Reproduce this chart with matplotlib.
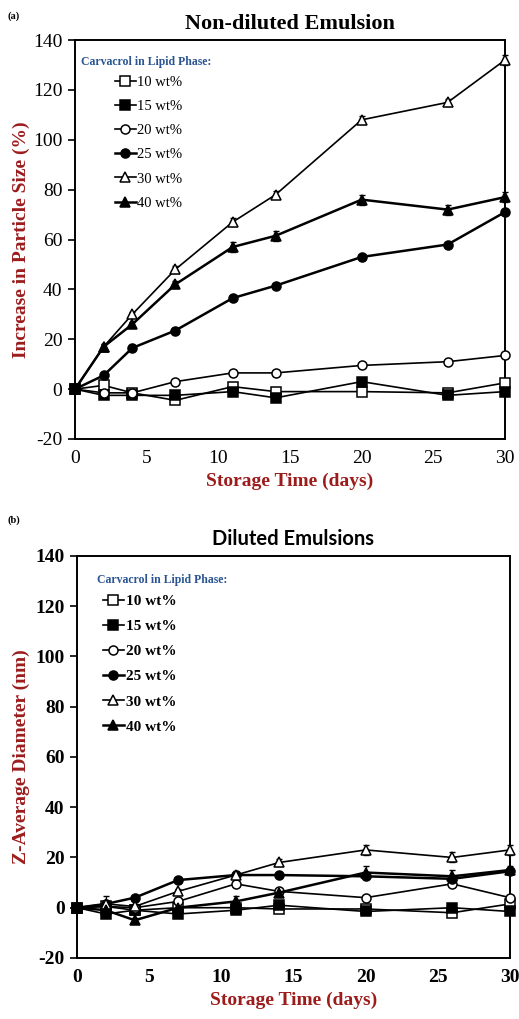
import matplotlib
matplotlib.use('Agg')
from matplotlib import pyplot as plt

plt.rcParams['axes.unicode_minus'] = False

days = [0, 2, 4, 7, 11, 14, 20, 26, 30]
labels = ['10 wt%', '15 wt%', '20 wt%', '25 wt%', '30 wt%', '40 wt%']

# (a) non-diluted, increase in particle size (%)
a_10 = [0, 1.5, -1.5, -4.5, 1, -1, -1, -1.5, 2.5]
a_15 = [0, -2.5, -2.5, -2.5, -1, -3.5, 3, -2.5, -1]
a_20 = [0, -1.5, -1.5, 3, 6.5, 6.5, 9.5, 11, 13.5]
a_25 = [0, 5.5, 16.5, 23.5, 36.5, 41.5, 53, 58, 71]
a_30 = [0, 17, 30, 48, 67, 78, 108, 115, 132]
a_40 = [0, 17, 26, 42, 57, 61.5, 76, 72, 77]
a_err30 = [0, 1, 1, 1.5, 1.5, 1.5, 1.5, 1.5, 2]
a_err40 = [0, 1, 1, 1.5, 2, 2, 2, 2, 2]

# (b) diluted, z-average diameter
b_10 = [0, 0.5, -1, 0, 0, -0.5, -0.5, -2, 1.5]
b_15 = [0, -2.5, -1, -2.5, -1, 1, -1.5, 0, -1.5]
b_20 = [0, 0.5, 0, 2.5, 9.5, 6.5, 4, 9.5, 4]
b_25 = [0, 1.5, 4, 11, 13, 13, 12.5, 11.5, 14.5]
b_30 = [0, 1.5, 0.5, 6.5, 13, 18, 23, 20, 23]
b_40 = [0, -1, -5, 0, 2.5, 6, 14, 12.5, 15]
b_err30 = [0, 3, 1, 1, 1.5, 1.5, 2, 2, 2]
b_err40 = [0, 1, 1, 1, 2, 1.5, 2.5, 2.5, 1.5]

styles = [('s', 'white', 1.2), ('s', 'black', 1.2), ('o', 'white', 1.2),
          ('o', 'black', 1.8), ('^', 'white', 1.2), ('^', 'black', 1.8)]

serif = 'Liberation Serif'
red = '#9c1c1c'
blue = '#2a5592'

fig = plt.figure(figsize=(5.19, 10.19), dpi=100)
ax1 = fig.add_axes([0.1445, 0.5692, 0.8285, 0.3915])
ax2 = fig.add_axes([0.1485, 0.0599, 0.834, 0.3945])


def draw(ax, series, errs, bold):
    handles = []
    for i, ys in enumerate(series):
        m, fc, lw = styles[i]
        e = errs.get(i)
        if e is not None:
            ax.errorbar(days, ys, yerr=e, fmt='none', ecolor='black',
                        elinewidth=0.9, capsize=2.5, clip_on=False, zorder=2)
        h, = ax.plot(days, ys, marker=m, mfc=fc, mec='black', color='black',
                     lw=lw, ms=6.5, mew=1.1, clip_on=False, zorder=3)
        handles.append(h)
    ax.set_xlim(0, 30)
    ax.set_ylim(-20, 140)
    ax.set_xticks(range(0, 31, 5))
    ax.set_yticks(range(-20, 141, 20))
    ax.tick_params(axis='x', length=0, pad=8)
    ax.tick_params(axis='y', length=5, width=1.2, direction='out', pad=4)
    wt = 'bold' if bold else 'normal'
    for t in ax.get_xticklabels() + ax.get_yticklabels():
        t.set_fontfamily(serif)
        t.set_fontsize(14)
        t.set_fontweight(wt)
    for s in ax.spines.values():
        s.set_linewidth(1.4)
    ax.set_xlabel('Storage Time (days)', fontfamily=serif, fontsize=14,
                  fontweight='bold', color=red, labelpad=4)
    return handles


h1 = draw(ax1, [a_10, a_15, a_20, a_25, a_30, a_40], {4: a_err30, 5: a_err40}, False)
ax1.set_ylabel('Increase in Particle Size (%)', fontfamily=serif, fontsize=14,
               fontweight='bold', color=red, labelpad=2)
ax1.set_title('Non-diluted Emulsion', fontfamily=serif, fontsize=16,
              fontweight='bold', pad=8)
ax1.text(0.015, 0.945, 'Carvacrol in Lipid Phase:', transform=ax1.transAxes,
         fontfamily=serif, fontsize=8.5, fontweight='bold', color=blue, va='center')
ax1.legend(h1, labels, loc='upper left', bbox_to_anchor=(0.08, 0.925),
           frameon=False, handlelength=1.4, handletextpad=0.1,
           labelspacing=0.75, borderaxespad=0,
           prop={'family': serif, 'size': 10.5})
fig.text(0.015, 0.982, '(a)', fontfamily=serif, fontsize=7.5, fontweight='bold')

h2 = draw(ax2, [b_10, b_15, b_20, b_25, b_30, b_40], {4: b_err30, 5: b_err40}, True)
ax2.set_ylabel('Z-Average Diameter (nm)', fontfamily=serif, fontsize=14,
               fontweight='bold', color=red, labelpad=4)
ax2.set_title('Diluted Emulsions', fontfamily='Lato', fontsize=14.5,
              fontweight='bold', pad=8)
ax2.text(0.045, 0.94, 'Carvacrol in Lipid Phase:', transform=ax2.transAxes,
         fontfamily=serif, fontsize=8.5, fontweight='bold', color=blue, va='center')
ax2.legend(h2, labels, loc='upper left', bbox_to_anchor=(0.045, 0.92),
           frameon=False, handlelength=1.4, handletextpad=0.1,
           labelspacing=0.75, borderaxespad=0,
           prop={'family': serif, 'size': 11, 'weight': 'bold'})
fig.text(0.015, 0.487, '(b)', fontfamily=serif, fontsize=7.5, fontweight='bold')

fig.savefig('out.png', dpi=100)
